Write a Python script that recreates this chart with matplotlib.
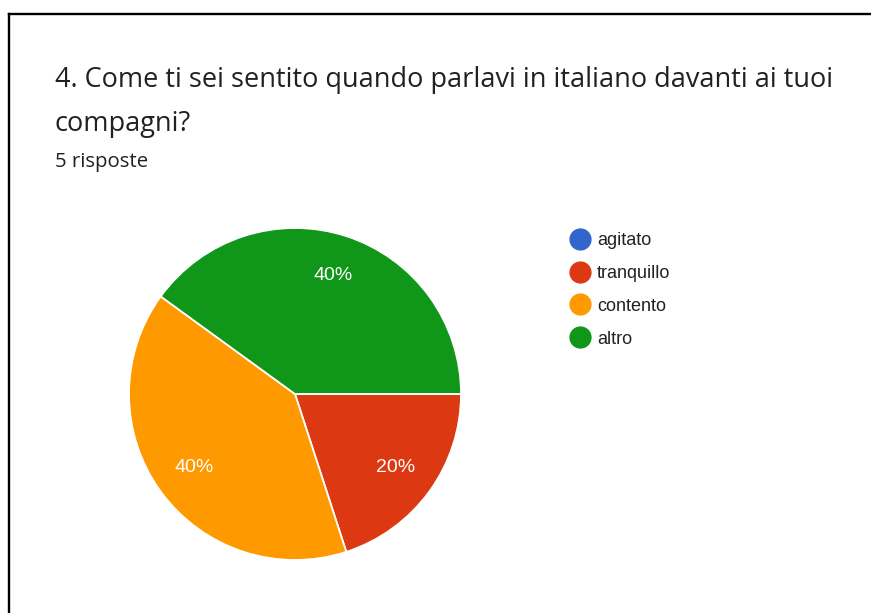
import matplotlib
matplotlib.use("Agg")
import matplotlib.pyplot as plt
from matplotlib.lines import Line2D

# Survey responses
categories = ["agitato", "tranquillo", "contento", "altro"]
counts = [0, 1, 2, 2]
colors = ["#3366cc", "#dc3912", "#ff9900", "#109618"]
title_lines = ["4. Come ti sei sentito quando parlavi in italiano davanti ai tuoi",
               "compagni?"]
subtitle = "5 risposte"

plt.rcParams["font.family"] = ["Open Sans", "DejaVu Sans"]
chart_font = ["Liberation Sans", "DejaVu Sans"]
W, H = 871, 613
fig = plt.figure(figsize=(W / 100, H / 100), dpi=100)
fig.patch.set_facecolor("white")

text_color = "#202124"

# Frame lines (left and top)
fig.add_artist(Line2D([9 / W, 9 / W], [0, 1 - 14 / H], transform=fig.transFigure,
                      color="black", lw=1.7, solid_capstyle="projecting"))
fig.add_artist(Line2D([9 / W, 1], [1 - 14 / H, 1 - 14 / H], transform=fig.transFigure,
                      color="black", lw=1.7, solid_capstyle="projecting"))

# Title and subtitle
fig.text(55 / W, 1 - 87 / H, title_lines[0], fontsize=19.5, color=text_color, va="baseline")
fig.text(55 / W, 1 - 131 / H, title_lines[1], fontsize=19.5, color=text_color, va="baseline")
fig.text(55 / W, 1 - 167 / H, subtitle, fontsize=14.7, color=text_color, va="baseline")

# Pie
cx, cy, r = 295, 394, 166
ax = fig.add_axes([(cx - r) / W, 1 - (cy + r) / H, 2 * r / W, 2 * r / H])


def pct(p):
    return f"{p:.0f}%" if p > 0.5 else ""


wedges, texts, autotexts = ax.pie(
    counts, colors=colors, startangle=0, counterclock=False,
    autopct=pct, pctdistance=0.75,
    wedgeprops=dict(edgecolor="white", linewidth=1.3),
    textprops=dict(color="white", fontsize=14, family=chart_font),
)
ax.set_aspect("equal")
ax.set_xlim(-1, 1)
ax.set_ylim(-1, 1)

# Legend with round markers
handles = [Line2D([], [], marker="o", linestyle="none", markersize=15,
                  markerfacecolor=c, markeredgecolor=c) for c in colors]
fig.legend(handles, categories, loc="upper left",
           bbox_to_anchor=(571 / W, 1 - 232 / H), frameon=False,
           prop=dict(family=chart_font, size=13), labelcolor=text_color,
           handletextpad=0.45, labelspacing=0.88, borderpad=0, borderaxespad=0,
           handlelength=1.0)

fig.savefig("out.png", dpi=100, facecolor="white")
